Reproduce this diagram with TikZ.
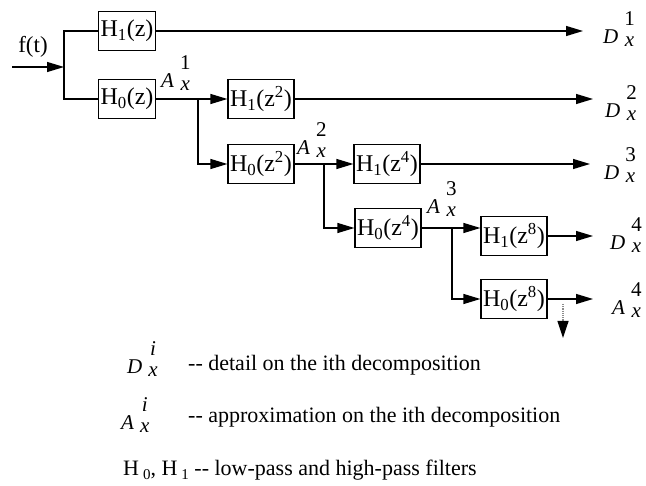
\documentclass[tikz,border=0pt]{standalone}
\usepackage{fontspec}
\setmainfont{Liberation Serif}
\usepackage{tikz}
\usetikzlibrary{positioning,calc}
\usetikzlibrary{arrows.meta}
\newcommand{\wcoef}[2]{\raisebox{3pt}{\textit{#1}}\hspace{6pt}\shortstack{#2\\[9pt]\textit{x}}}
\newcommand{\lowidx}[1]{\raisebox{-4pt}{\fontsize{15}{17}\selectfont #1}}
\tikzset{
  filt/.style={draw=black,line width=1.4pt,fill=white,inner xsep=2pt,inner ysep=0pt,
    minimum height=39pt,font=\fontsize{24}{26}\selectfont},
  wire/.style={draw=black,line width=1.2pt},
  sig/.style={wire,-{Triangle[length=17pt,width=10pt]}},
}
\tikzset{coef/.style={anchor=base west,inner sep=0pt,font=\fontsize{21}{23}\selectfont}, note/.style={anchor=base west,inner sep=0pt,font=\fontsize{22}{24}\selectfont}}

\begin{document}
\begin{tikzpicture}[x=1pt,y=-1pt]
\useasboundingbox (0,0) rectangle (646,486);
\coordinate (fin) at (12,67);
\coordinate (s0) at (64,67);
\coordinate (s1) at (198,99);
\coordinate (s2) at (324,164);
\coordinate (s3) at (452,228);
\coordinate (d1) at (583,31);
\coordinate (d2) at (593,99);
\coordinate (d3) at (590,164);
\coordinate (d4) at (593,236);
\coordinate (a4) at (593,299);
\coordinate (dn0) at (563,304);
\coordinate (dn1) at (563,338);
\node[filt] (H1a) at (127,31) {H\textsubscript{1}(z)};
\node[filt] (H0a) at (127,99) {H\textsubscript{0}(z)};
\node[filt] (H1b) at (261,99) {H\textsubscript{1}(z\textsuperscript{2})};
\node[filt] (H0b) at (261,164) {H\textsubscript{0}(z\textsuperscript{2})};
\node[filt] (H1c) at (387,164) {H\textsubscript{1}(z\textsuperscript{4})};
\node[filt] (H0c) at (388,228) {H\textsubscript{0}(z\textsuperscript{4})};
\node[filt] (H1d) at (514,236) {H\textsubscript{1}(z\textsuperscript{8})};
\node[filt] (H0d) at (514,299) {H\textsubscript{0}(z\textsuperscript{8})};
\node[font=\fontsize{23}{25}\selectfont] (ft) at (33,47) {f(t)};
\draw[sig] (fin)--(s0);
\draw[wire] (H1a.west) -| (s0) |- (H0a.west);
\draw[sig] (H1a.east)--(d1);
\draw[wire] (H0a.east)--(s1);
\draw[sig] (s1)--(H1b.west);
\draw[sig] (s1) |- (H0b.west);
\draw[sig] (H1b.east)--(d2);
\draw[wire] (H0b.east)--(s2);
\draw[sig] (s2)--(H1c.west);
\draw[sig] (s2) |- (H0c.west);
\draw[sig] (H1c.east)--(d3);
\draw[wire] (H0c.east)--(s3);
\draw[sig] (s3)--(s3 -| H1d.west);
\draw[sig] (s3) |- (H0d.west);
\draw[sig] (H1d.east)--(d4);
\draw[sig] (H0d.east)--(a4);
\draw[wire,densely dotted,draw=black!45,-{Triangle[length=17pt,width=11pt,color=black]}] (dn0)--(dn1);
\node[coef] (cA1) at (161,91) {\wcoef{A}{1}};
\node[coef] (cA2) at (297,158) {\wcoef{A}{2}};
\node[coef] (cA3) at (427,217) {\wcoef{A}{3}};
\node[coef] (cD1) at (603,47) {\wcoef{D}{1}};
\node[coef] (cD2) at (605,121) {\wcoef{D}{2}};
\node[coef] (cD3) at (604,183) {\wcoef{D}{3}};
\node[coef] (cD4) at (610,253) {\wcoef{D}{4}};
\node[coef] (cA4) at (612,318) {\wcoef{A}{4}};
\node[coef] (kD) at (127,377) {\wcoef{D}{\textit{i}}};
\node[coef] (kA) at (121,433) {\wcoef{A}{\textit{i}}};
\node[note] (tD) at (188,371) {-{}- detail on the ith decomposition};
\node[note] (tA) at (188,423) {-{}- approximation on the ith decomposition};
\node[note] (tH) at (123,476) {H\hspace{4pt}\lowidx{0}, H\hspace{4pt}\lowidx{1} -{}- low-pass and high-pass filters};
\end{tikzpicture}
\end{document}
